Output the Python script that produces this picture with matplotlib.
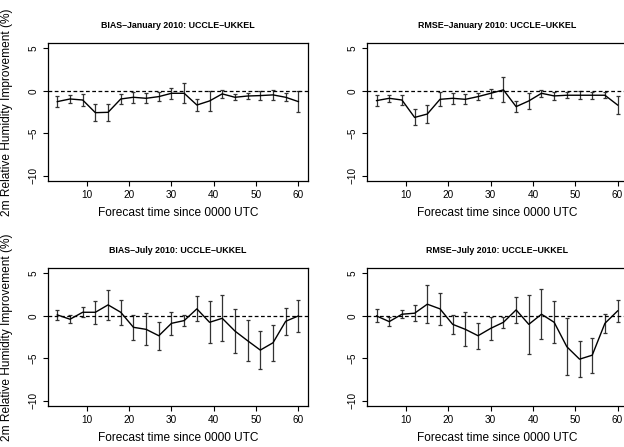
import numpy as np
import matplotlib
matplotlib.use("Agg")
import matplotlib.pyplot as plt

plt.rcParams['font.family'] = ['Liberation Sans', 'DejaVu Sans']

# forecast lead times [h]
lead = [3, 6, 9, 12, 15, 18, 21, 24, 27, 30, 33, 36, 39, 42, 45, 48, 51, 54, 57, 60]

# mean improvement (%) and error bar half-widths
bias_jan = [-1.26, -0.95, -1.07, -2.56, -2.52, -0.95, -0.75, -0.87, -0.67, -0.28,
            -0.28, -1.66, -1.18, -0.35, -0.75, -0.60, -0.55, -0.47, -0.75, -1.26]
bias_jan_err = [0.67, 0.43, 0.65, 1.03, 1.03, 0.60, 0.65, 0.60, 0.53, 0.63,
                1.18, 0.69, 1.22, 0.45, 0.37, 0.37, 0.50, 0.55, 0.45, 1.26]

rmse_jan = [-1.14, -0.87, -1.07, -3.12, -2.72, -0.99, -0.87, -0.99, -0.67, -0.28,
            0.12, -1.85, -1.18, -0.28, -0.59, -0.51, -0.51, -0.51, -0.51, -1.66]
rmse_jan_err = [0.69, 0.43, 0.63, 0.95, 1.08, 0.83, 0.63, 0.57, 0.45, 0.55,
                1.48, 0.69, 0.99, 0.43, 0.45, 0.36, 0.45, 0.43, 0.36, 1.07]

bias_jul = [0.12, -0.39, 0.43, 0.43, 1.30, 0.43, -1.34, -1.58, -2.33, -0.87,
            -0.55, 0.83, -0.75, -0.28, -1.78, -2.92, -4.02, -3.16, -0.63, 0.00]
bias_jul_err = [0.59, 0.49, 0.59, 1.38, 1.75, 1.44, 1.48, 1.87, 1.64, 1.32,
                0.69, 1.48, 2.47, 2.72, 2.58, 2.43, 2.27, 2.15, 1.62, 1.91]

rmse_jul = [0.00, -0.67, 0.20, 0.32, 1.38, 0.83, -0.99, -1.58, -2.33, -1.46,
            -0.75, 0.71, -0.99, 0.20, -0.75, -3.63, -5.09, -4.62, -0.87, 0.59]
rmse_jul_err = [0.77, 0.55, 0.45, 0.93, 2.21, 1.87, 1.12, 2.01, 1.52, 1.38,
                0.65, 1.52, 3.45, 2.92, 2.47, 3.35, 2.15, 2.05, 1.14, 1.34]

titles = ["BIAS\u2013January 2010: UCCLE\u2013UKKEL", "RMSE\u2013January 2010: UCCLE\u2013UKKEL",
          "BIAS\u2013July 2010: UCCLE\u2013UKKEL", "RMSE\u2013July 2010: UCCLE\u2013UKKEL"]
series = [(bias_jan, bias_jan_err), (rmse_jan, rmse_jan_err),
          (bias_jul, bias_jul_err), (rmse_jul, rmse_jul_err)]

fig = plt.figure(figsize=(6.24, 4.47), dpi=100)

# axes boxes in figure fractions (right column runs off the page, as in the original)
lefts = [0.0764, 0.588]
bottoms = [0.5951, 0.0917]
w, h = 0.4172, 0.308

for i, (title, (y, e)) in enumerate(zip(titles, series)):
    row, col = divmod(i, 2)
    ax = fig.add_axes([lefts[col], bottoms[row], w, h])
    ax.errorbar(lead, y, yerr=e, color='black', lw=1.0, elinewidth=0.9,
                ecolor='#333333', capsize=1.6, capthick=0.9)
    ax.axhline(0, color='black', lw=0.9, ls=(0, (3, 2)))
    ax.set_xlim(0.72, 62.28)
    ax.set_ylim(-10.6, 5.6)
    ax.set_xticks([10, 20, 30, 40, 50, 60])
    ax.set_yticks([-10, -5, 0, 5])
    ax.tick_params(direction='out', length=3.5, width=0.8, labelsize=7.2, pad=3)
    for lab in ax.get_yticklabels():
        lab.set_rotation(90)
        lab.set_va('center')
    for s in ax.spines.values():
        s.set_linewidth(0.9)
    ax.set_title(title, fontsize=6.4, fontweight='bold', pad=11)
    ax.set_xlabel("Forecast time since 0000 UTC", fontsize=8.6, labelpad=5)

for row in range(2):
    yc = bottoms[row] + h / 2
    fig.text(7 / 624, yc, "2m Relative Humidity Improvement (%)", rotation=90,
             ha='center', va='center', fontsize=8.6)

plt.savefig("out.png", dpi=100)
